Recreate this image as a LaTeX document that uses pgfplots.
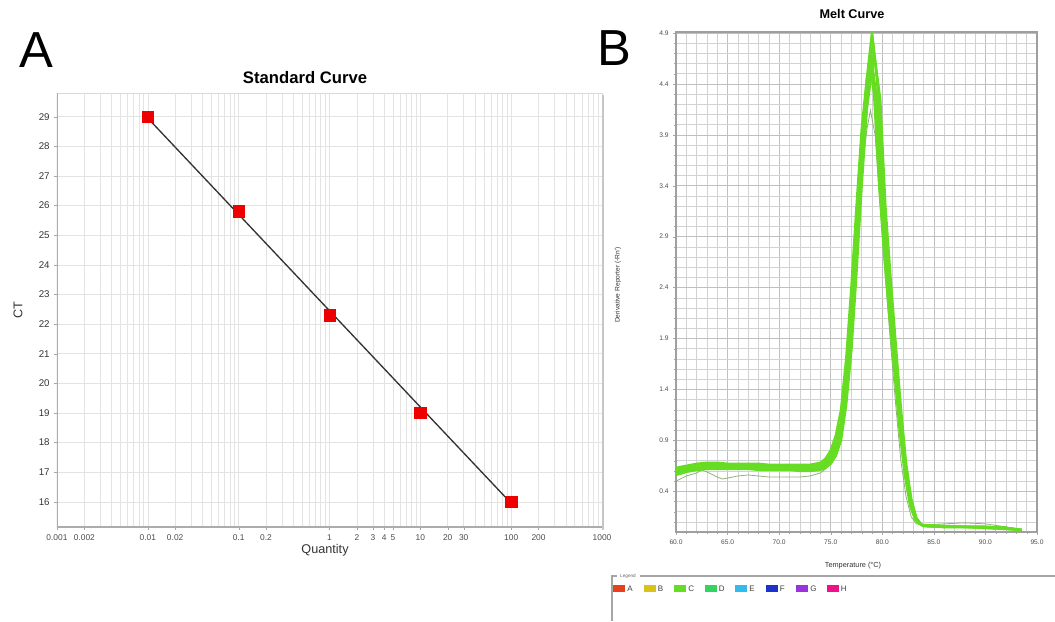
\documentclass[border=0pt]{standalone}
\usepackage{fontspec}
\setmainfont{Liberation Sans}
\usepackage{pgfplots}
\pgfplotsset{compat=1.18}

\definecolor{ptred}{HTML}{EE0000}
\definecolor{wellA}{HTML}{E8401C}
\definecolor{wellB}{HTML}{D9C21A}
\definecolor{wellC}{HTML}{66DD22}
\definecolor{wellD}{HTML}{33D460}
\definecolor{wellE}{HTML}{33BBEE}
\definecolor{wellF}{HTML}{1A33CC}
\definecolor{wellG}{HTML}{9933DD}
\definecolor{wellH}{HTML}{EE1188}
\definecolor{thinline}{HTML}{8FB27A}

\begin{document}
\begin{tikzpicture}
\useasboundingbox (0,0) rectangle (791.25pt,465.75pt);

% ---- A: standard curve
\begin{axis}[
  at={(42.75pt,70.5pt)}, anchor=south west, scale only axis,
  width=408.75pt, height=325.5pt,
  xmode=log, xmin=0.001, xmax=1000, ymin=15.15, ymax=29.8,
  xtick={0.001,0.002,0.01,0.02,0.1,0.2,1,2,3,4,5,10,20,30,100,200,1000},
  xticklabels={0.001,0.002,0.01,0.02,0.1,0.2,1,2,3,4,5,10,20,30,100,200,1000},
  minor xtick={0.003,0.004,0.005,0.006,0.007,0.008,0.009,
    0.03,0.04,0.05,0.06,0.07,0.08,0.09,0.3,0.4,0.5,0.6,0.7,0.8,0.9,
    6,7,8,9,40,50,60,70,80,90,300,400,500,600,700,800,900},
  ytick={16,17,...,29},
  xtick pos=bottom, ytick pos=left,
  grid=both,
  major grid style={gray!22, line width=0.4pt},
  minor grid style={gray!22, line width=0.4pt},
  axis line style={gray!30},
  tick align=outside, major tick length=2pt, minor tick length=0pt,
  tick style={gray!70},
  xticklabel style={font=\fontsize{6.3}{7}\selectfont, text=black!70},
  yticklabel style={font=\fontsize{7.3}{8}\selectfont, text=black!80},
  /pgf/number format/assume math mode=true,
]
\draw[gray!65, line width=1.1pt] (rel axis cs:0,1) -- (rel axis cs:0,0) -- (rel axis cs:1,0);
\addplot[black!80, line width=1pt] coordinates {(0.01,28.95) (100,15.95)};
\addplot[only marks, mark=square*, mark size=4.3pt, color=ptred] coordinates {
  (0.01,29.0) (0.1,25.8) (1,22.3) (10,19.0) (100,16.0)};
\end{axis}

% ---- B: melt curve
\begin{axis}[
  at={(507pt,66.75pt)}, anchor=south west, scale only axis,
  width=270.75pt, height=375pt,
  xmin=60, xmax=95, ymin=0, ymax=4.91,
  xtick={60,65,...,95},
  minor xtick={61,62,63,64,66,67,68,69,71,72,73,74,76,77,78,79,81,82,83,84,86,87,88,89,91,92,93,94},
  ytick={0.4,0.9,1.4,1.9,2.4,2.9,3.4,3.9,4.4,4.9},
  minor ytick={0.1,0.2,0.3,0.5,0.6,0.7,0.8,1.0,1.1,1.2,1.3,1.5,1.6,1.7,1.8,2.0,2.1,2.2,2.3,
    2.5,2.6,2.7,2.8,3.0,3.1,3.2,3.3,3.5,3.6,3.7,3.8,4.0,4.1,4.2,4.3,4.5,4.6,4.7,4.8},
  xtick pos=bottom, ytick pos=left,
  grid=both,
  major grid style={gray!50, line width=0.4pt},
  minor grid style={gray!35, line width=0.4pt},
  axis line style={gray!75, line width=0.8pt},
  tick align=outside, major tick length=2pt, minor tick length=1.2pt,
  tick style={gray!70},
  ticklabel style={font=\fontsize{5}{6}\selectfont, text=black!70},
  /pgf/number format/assume math mode=true,
  /pgf/number format/fixed, /pgf/number format/fixed zerofill,
  /pgf/number format/precision=1,
]
\addplot[thinline, line width=0.6pt] coordinates {
  (60,0.50) (61,0.55) (62,0.58) (62.5,0.61) (63,0.59) (64,0.54) (64.5,0.52) (65,0.53) (66,0.55) (67,0.56)
  (68,0.55) (69,0.54) (70,0.54) (71,0.54) (72,0.54) (73,0.55) (74,0.58) (74.5,0.62) (75,0.70)
  (75.5,0.82) (76,1.02) (76.5,1.40) (77,1.98) (77.5,2.75) (78,3.50) (78.5,3.95) (78.85,4.14)
  (79.3,3.90) (79.8,3.20) (80.3,2.50) (80.8,1.85) (81.3,1.25) (81.8,0.70) (82.3,0.35) (82.8,0.15)
  (83.3,0.08) (84,0.07) (86,0.08) (88,0.09) (90,0.08) (92,0.05) (93.5,0.02)};
\addplot[wellD, line width=1.4pt] coordinates {
  (60,0.58) (61,0.61) (62,0.63) (63,0.64) (64,0.64) (65,0.64) (66,0.64) (67,0.64) (68,0.63)
  (69,0.63) (70,0.63) (71,0.63) (72,0.63) (73,0.62) (74,0.63) (74.5,0.66) (75,0.72) (75.5,0.83)
  (76,1.02) (76.5,1.45) (77,2.02) (77.5,2.80) (78,3.62) (78.5,4.25) (79.0,4.55) (79.5,4.20)
  (80.0,3.25) (80.5,2.55) (81.0,1.95) (81.5,1.36) (82.0,0.80) (82.5,0.41) (83.0,0.18) (83.5,0.09)
  (84,0.06) (86,0.05) (88,0.05) (90,0.05) (92,0.04) (93.5,0.02)};
\addplot[wellC, line width=1.8pt] coordinates {
  (60,0.63) (61,0.65) (62,0.67) (63,0.68) (64,0.68) (65,0.67) (66,0.67) (67,0.67) (68,0.67)
  (69,0.66) (70,0.66) (71,0.66) (72,0.66) (73,0.66) (74,0.68) (74.5,0.72) (75,0.80) (75.5,0.95)
  (76,1.20) (76.5,1.70) (77,2.40) (77.5,3.20) (78,3.95) (78.5,4.45) (78.8,4.60) (79.2,4.30)
  (79.7,3.40) (80.2,2.70) (80.7,2.10) (81.2,1.55) (81.7,0.98) (82.2,0.55) (82.7,0.26) (83.2,0.12)
  (83.8,0.07) (86,0.06) (88,0.05) (90,0.05) (92,0.04) (93.5,0.02)};
\addplot[wellC, line width=1.8pt] coordinates {
  (60,0.62) (61,0.64) (62,0.66) (63,0.67) (64,0.67) (65,0.66) (66,0.66) (67,0.66) (68,0.66)
  (69,0.65) (70,0.65) (71,0.65) (72,0.65) (73,0.65) (74,0.66) (74.5,0.69) (75,0.76) (75.5,0.88)
  (76,1.08) (76.5,1.52) (77,2.12) (77.5,2.92) (78,3.72) (78.5,4.35) (78.95,4.65) (79.4,4.30)
  (79.9,3.35) (80.4,2.62) (80.9,2.02) (81.4,1.45) (81.9,0.88) (82.4,0.47) (82.9,0.21) (83.4,0.10)
  (84,0.06) (86,0.05) (88,0.05) (90,0.05) (92,0.04) (93.5,0.02)};
\addplot[wellC, line width=1.8pt] coordinates {
  (60,0.56) (61,0.59) (62,0.61) (63,0.62) (64,0.62) (65,0.62) (66,0.62) (67,0.62) (68,0.61)
  (69,0.61) (70,0.61) (71,0.61) (72,0.60) (73,0.60) (74,0.61) (74.5,0.63) (75,0.67) (75.5,0.75)
  (76,0.90) (76.5,1.25) (77,1.78) (77.5,2.55) (78,3.40) (78.5,4.15) (79.2,4.70) (79.8,4.25)
  (80.3,3.20) (80.8,2.50) (81.3,1.85) (81.8,1.22) (82.3,0.68) (82.8,0.33) (83.3,0.14) (83.8,0.07)
  (84.2,0.06) (86,0.05) (88,0.05) (90,0.04) (92,0.03) (93.5,0.02)};
\addplot[wellC, line width=1.8pt] coordinates {
  (60,0.57) (61,0.60) (62,0.62) (63,0.63) (64,0.63) (65,0.63) (66,0.63) (67,0.63) (68,0.62)
  (69,0.62) (70,0.62) (71,0.62) (72,0.62) (73,0.61) (74,0.62) (74.5,0.65) (75,0.70) (75.5,0.80)
  (76,0.98) (76.5,1.38) (77,1.95) (77.5,2.75) (78,3.62) (78.5,4.35) (79.1,4.80) (79.6,4.35)
  (80.1,3.30) (80.6,2.55) (81.1,1.92) (81.6,1.30) (82.1,0.75) (82.6,0.38) (83.1,0.16) (83.6,0.08)
  (84,0.06) (86,0.05) (88,0.05) (90,0.04) (92,0.03) (93.5,0.02)};
\addplot[wellC, line width=1.8pt] coordinates {
  (60,0.60) (61,0.62) (62,0.64) (63,0.65) (64,0.65) (65,0.65) (66,0.65) (67,0.65) (68,0.64)
  (69,0.64) (70,0.64) (71,0.64) (72,0.64) (73,0.63) (74,0.64) (74.5,0.67) (75,0.73) (75.5,0.84)
  (76,1.02) (76.5,1.45) (77,2.05) (77.5,2.88) (78,3.75) (78.5,4.45) (79,4.90) (79.5,4.45)
  (80,3.30) (80.5,2.60) (81,2.00) (81.5,1.40) (82,0.82) (82.5,0.42) (83,0.18) (83.5,0.09)
  (84,0.06) (86,0.05) (88,0.05) (90,0.05) (92,0.04) (93.5,0.02)};
\end{axis}

% ---- texts and frames, in pixel units (origin top left)
\begin{scope}[x=0.75pt, y=-0.75pt, shift={(0,-621)}]
\node[font=\fontsize{38}{40}\selectfont] at (36,50) {A};
\node[font=\fontsize{12.5}{14}\selectfont\bfseries] at (305,78) {Standard Curve};
\node[font=\fontsize{9.5}{11}\selectfont, text=black!80, rotate=90] at (18,310) {CT};
\node[font=\fontsize{9.5}{11}\selectfont, text=black!80] at (325,550) {Quantity};
\node[font=\fontsize{38}{40}\selectfont] at (614,48) {B};
\node[font=\fontsize{9.5}{11}\selectfont\bfseries] at (852,14) {Melt Curve};
\node[font=\fontsize{5}{6}\selectfont, text=black!80, rotate=90] at (618,285) {Derivative Reporter (-Rn')};
\node[font=\fontsize{5.5}{6}\selectfont, text=black!80] at (853,566) {Temperature (°C)};
\draw[gray!45, line width=0.8pt] (603,95) -- (603,530);
\draw[gray!70, line width=1pt] (612,621) -- (612,576) -- (617,576);
\draw[gray!70, line width=1pt] (640,576) -- (1055,576);
\node[font=\fontsize{3.5}{4}\selectfont, text=gray!80!black] at (628,576) {Legend};
\foreach \c/\l [count=\i from 0] in {wellA/A,wellB/B,wellC/C,wellD/D,wellE/E,wellF/F,wellG/G,wellH/H}{
  \fill[\c] ({613+30.5*\i},584.5) rectangle ({625+30.5*\i},592);
  \node[font=\fontsize{6}{7}\selectfont, text=black!75, anchor=west, inner sep=0pt] at ({627+30.5*\i},588.5) {\l};
}
\end{scope}
\end{tikzpicture}
\end{document}
